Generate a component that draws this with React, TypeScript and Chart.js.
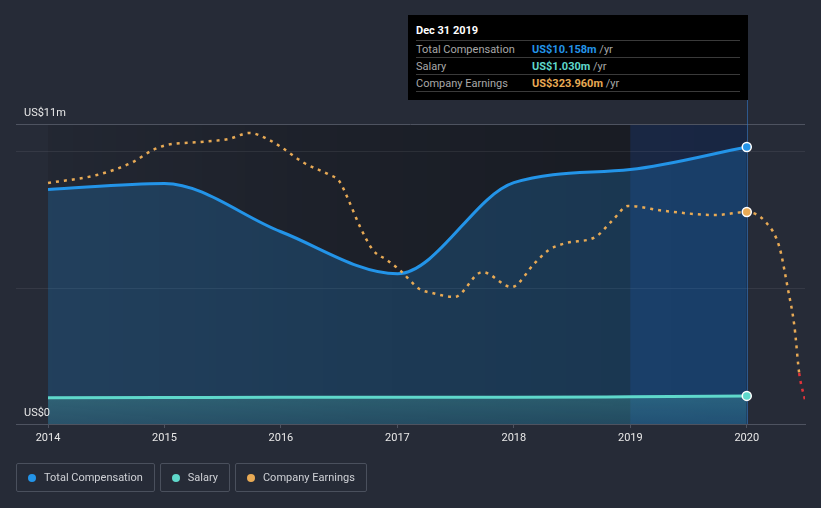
import React, { useEffect, useRef } from "react";
import { Chart, registerables } from "chart.js";

Chart.register(...registerables);

// ---- data ----
const compYears = [2014, 2015, 2016, 2017, 2018, 2019, 2020];
const totalCompensation = [8.6, 8.82, 7.05, 5.51, 8.85, 9.33, 10.158];
const salary = [0.96, 0.97, 0.98, 0.98, 0.98, 1.0, 1.03];
const earningsDates = [
  2014.0, 2014.42, 2014.73, 2014.9, 2015.02, 2015.3, 2015.55, 2015.73, 2015.9, 2016.0,
  2016.2, 2016.42, 2016.5, 2016.58, 2016.68, 2016.79, 2016.91, 2017.02, 2017.19, 2017.3,
  2017.49, 2017.73, 2017.98, 2018.18, 2018.3, 2018.45, 2018.7, 2018.85, 2018.98, 2019.3,
  2019.73, 2020.0, 2020.17, 2020.28, 2020.35, 2020.41, 2020.45, 2020.5,
];
const earnings = [
  382, 398, 424, 448, 458, 464, 470, 482, 468, 454,
  422, 398, 386, 348, 294, 248, 228, 208, 170, 162,
  154, 204, 174, 222, 248, 262, 274, 308, 336, 326,
  318, 323.96, 302, 254, 174, 94, 2, -52,
];
const xTickYears = [2014, 2015, 2016, 2017, 2018, 2019, 2020];
const yGridValues = [5, 10];
const yTopValue = 11;
const yLabels = [
  { value: 0, text: "US$0" },
  { value: 11, text: "US$11m" },
];
const highlightYear = 2020;
const highlightStart = 2019;
const regionStart = 2014;

const tooltipTitle = "Dec 31 2019";
const tooltipRows = [
  { label: "Total Compensation", value: "US$10.158m", color: "#2394e8" },
  { label: "Salary", value: "US$1.030m", color: "#5fd8cb" },
  { label: "Company Earnings", value: "US$323.960m", color: "#e8aa55" },
];
const legendItems = [
  { label: "Total Compensation", color: "#2394e8" },
  { label: "Salary", color: "#5fd8cb" },
  { label: "Company Earnings", color: "#e8aa55" },
];

const BG = "#262b37";
const BLUE = "#2394e8";
const TEAL = "#5fd8cb";
const ORANGE = "#e8aa55";
const RED = "#e0343a";
const FONT = "Roboto, 'Noto Sans', sans-serif";

const bgPlugin = {
  id: "bgPlugin",
  beforeDraw(chart: any) {
    const { ctx, chartArea, scales } = chart;
    const x = scales.x;
    const y = scales.y;
    const left = chartArea.left;
    const right = chartArea.right;
    const top = chartArea.top;
    const bottom = chartArea.bottom;
    ctx.save();
    const rx0 = x.getPixelForValue(regionStart);
    const rx1 = x.getPixelForValue(highlightYear);
    const g = ctx.createLinearGradient(rx0, 0, rx1, 0);
    g.addColorStop(0, "rgba(0,0,0,0.08)");
    g.addColorStop(0.45, "rgba(0,0,0,0.25)");
    g.addColorStop(1, "rgba(0,0,0,0.38)");
    ctx.fillStyle = g;
    ctx.fillRect(rx0, top, rx1 - rx0, bottom - top);
    const hx0 = x.getPixelForValue(highlightStart);
    ctx.fillStyle = "rgba(25,90,210,0.18)";
    ctx.fillRect(hx0, top, rx1 - hx0, bottom - top);
    ctx.lineWidth = 1;
    ctx.strokeStyle = "rgba(255,255,255,0.07)";
    for (const v of yGridValues) {
      const py = Math.round(y.getPixelForValue(v)) + 0.5;
      ctx.beginPath();
      ctx.moveTo(left, py);
      ctx.lineTo(right, py);
      ctx.stroke();
    }
    ctx.strokeStyle = "#4e5360";
    const ty = Math.round(y.getPixelForValue(yTopValue)) + 0.5;
    ctx.beginPath();
    ctx.moveTo(left, ty);
    ctx.lineTo(right, ty);
    ctx.stroke();
    ctx.restore();
  },
  beforeDatasetsDraw(chart: any) {
    const { ctx, chartArea, scales } = chart;
    const px = Math.round(scales.x.getPixelForValue(highlightYear)) + 0.5;
    ctx.save();
    ctx.strokeStyle = "rgba(50,120,200,0.6)";
    ctx.lineWidth = 1;
    ctx.beginPath();
    ctx.moveTo(px, 100);
    ctx.lineTo(px, chartArea.bottom);
    ctx.stroke();
    ctx.restore();
  },
  afterDatasetsDraw(chart: any) {
    const { ctx, chartArea, scales } = chart;
    ctx.save();
    ctx.fillStyle = "#e8e8e8";
    ctx.font = `11px ${FONT}`;
    ctx.textBaseline = "alphabetic";
    ctx.textAlign = "left";
    for (const l of yLabels) {
      ctx.fillText(l.text, chartArea.left + 8, scales.y.getPixelForValue(l.value) - 8);
    }
    ctx.restore();
  },
};

function App() {
  const canvasRef = useRef<HTMLCanvasElement | null>(null);

  useEffect(() => {
    const canvas = canvasRef.current;
    if (!canvas) return;
    const isHighlight = (c: any) => c.raw && c.raw.x === highlightYear;
    const chart = new Chart(canvas, {
      type: "line",
      data: {
        datasets: [
          {
            label: "Company Earnings",
            data: earningsDates.map((d, i) => ({ x: d, y: earnings[i] })),
            yAxisID: "y2",
            borderColor: ORANGE,
            borderWidth: 2.5,
            borderDash: [3, 5],
            fill: false,
            cubicInterpolationMode: "monotone",
            pointRadius: (c: any) => (isHighlight(c) ? 4.5 : 0),
            pointBackgroundColor: ORANGE,
            pointBorderColor: "#ffffff",
            pointBorderWidth: 1.5,
            segment: {
              borderColor: (c: any) => (c.p1.parsed.y < 0 ? RED : ORANGE),
            },
            order: 0,
          } as any,
          {
            label: "Salary",
            data: compYears.map((d, i) => ({ x: d, y: salary[i] })),
            yAxisID: "y",
            borderColor: TEAL,
            borderWidth: 3,
            fill: "origin",
            backgroundColor: (c: any) => {
              const ca = c.chart.chartArea;
              if (!ca) return "rgba(95,216,203,0.2)";
              const g = c.chart.ctx.createLinearGradient(0, ca.bottom - 30, 0, ca.bottom);
              g.addColorStop(0, "rgba(95,216,203,0.24)");
              g.addColorStop(1, "rgba(95,216,203,0.12)");
              return g;
            },
            cubicInterpolationMode: "monotone",
            pointRadius: (c: any) => (isHighlight(c) ? 4.5 : 0),
            pointBackgroundColor: TEAL,
            pointBorderColor: "#ffffff",
            pointBorderWidth: 1.5,
            order: 1,
          } as any,
          {
            label: "Total Compensation",
            data: compYears.map((d, i) => ({ x: d, y: totalCompensation[i] })),
            yAxisID: "y",
            borderColor: BLUE,
            borderWidth: 3,
            fill: "origin",
            backgroundColor: "rgba(33,150,243,0.22)",
            cubicInterpolationMode: "monotone",
            pointRadius: (c: any) => (isHighlight(c) ? 4.5 : 0),
            pointBackgroundColor: BLUE,
            pointBorderColor: "#ffffff",
            pointBorderWidth: 1.5,
            order: 2,
          } as any,
        ],
      },
      options: {
        responsive: false,
        animation: false,
        events: [],
        layout: { padding: { left: 16, right: 16, top: 124, bottom: 54 } },
        plugins: {
          legend: { display: false },
          tooltip: { enabled: false },
        },
        scales: {
          x: {
            type: "linear",
            min: 2013.725,
            max: 2020.5,
            afterBuildTicks: (s: any) => {
              s.ticks = xTickYears.map((v) => ({ value: v }));
            },
            afterFit: (s: any) => {
              s.height = 30;
            },
            ticks: {
              color: "#e8e8e8",
              font: { family: FONT, size: 11 },
              padding: 4,
              maxRotation: 0,
              autoSkip: false,
              callback: (v: any) => String(v),
            },
            grid: {
              drawOnChartArea: false,
              drawTicks: true,
              tickLength: 4,
              color: "#4e5360",
            },
            border: { display: true, color: "#4e5360", width: 1 },
          },
          y: {
            display: false,
            min: 0,
            max: 11,
          },
          y2: {
            display: false,
            min: -100,
            max: 500,
          },
        },
      } as any,
      plugins: [bgPlugin],
    });
    return () => chart.destroy();
  }, []);

  return (
    <div
      style={{
        position: "fixed",
        left: 0,
        top: 0,
        width: 821,
        height: 508,
        background: BG,
        fontFamily: FONT,
        overflow: "hidden",
      }}
    >
      <canvas
        ref={canvasRef}
        width={821}
        height={508}
        style={{ position: "absolute", left: 0, top: 0, width: 821, height: 508 }}
      />
      <div
        style={{
          position: "absolute",
          left: 408,
          top: 15,
          width: 340,
          height: 85,
          background: "#000",
          boxSizing: "border-box",
          padding: "0 8px",
          fontSize: 11,
        }}
      >
        <div
          style={{
            color: "#fff",
            fontWeight: 700,
            height: 25,
            lineHeight: "31px",
            borderBottom: "1px solid #3a3a3a",
          }}
        >
          {tooltipTitle}
        </div>
        {tooltipRows.map((r) => (
          <div
            key={r.label}
            style={{
              display: "flex",
              height: 16,
              lineHeight: "17px",
              borderBottom: "1px solid #3a3a3a",
            }}
          >
            <span style={{ color: "#a8a8a8", width: 116 }}>{r.label}</span>
            <span style={{ color: r.color, fontWeight: 700 }}>{r.value}</span>
            <span style={{ color: "#a8a8a8" }}>&nbsp;/yr</span>
          </div>
        ))}
      </div>
      <div
        style={{
          position: "absolute",
          left: 16,
          top: 463,
          display: "flex",
          gap: 5,
        }}
      >
        {legendItems.map((l) => (
          <div
            key={l.label}
            style={{
              height: 29,
              boxSizing: "border-box",
              border: "1px solid #4a505d",
              borderRadius: 2,
              display: "flex",
              alignItems: "center",
              padding: "0 11px 0 11px",
              color: "#cfd1d6",
              fontSize: 11,
            }}
          >
            <span
              style={{
                width: 8,
                height: 8,
                borderRadius: 4,
                background: l.color,
                marginRight: 8,
                display: "inline-block",
              }}
            />
            {l.label}
          </div>
        ))}
      </div>
    </div>
  );
}

export default App;
